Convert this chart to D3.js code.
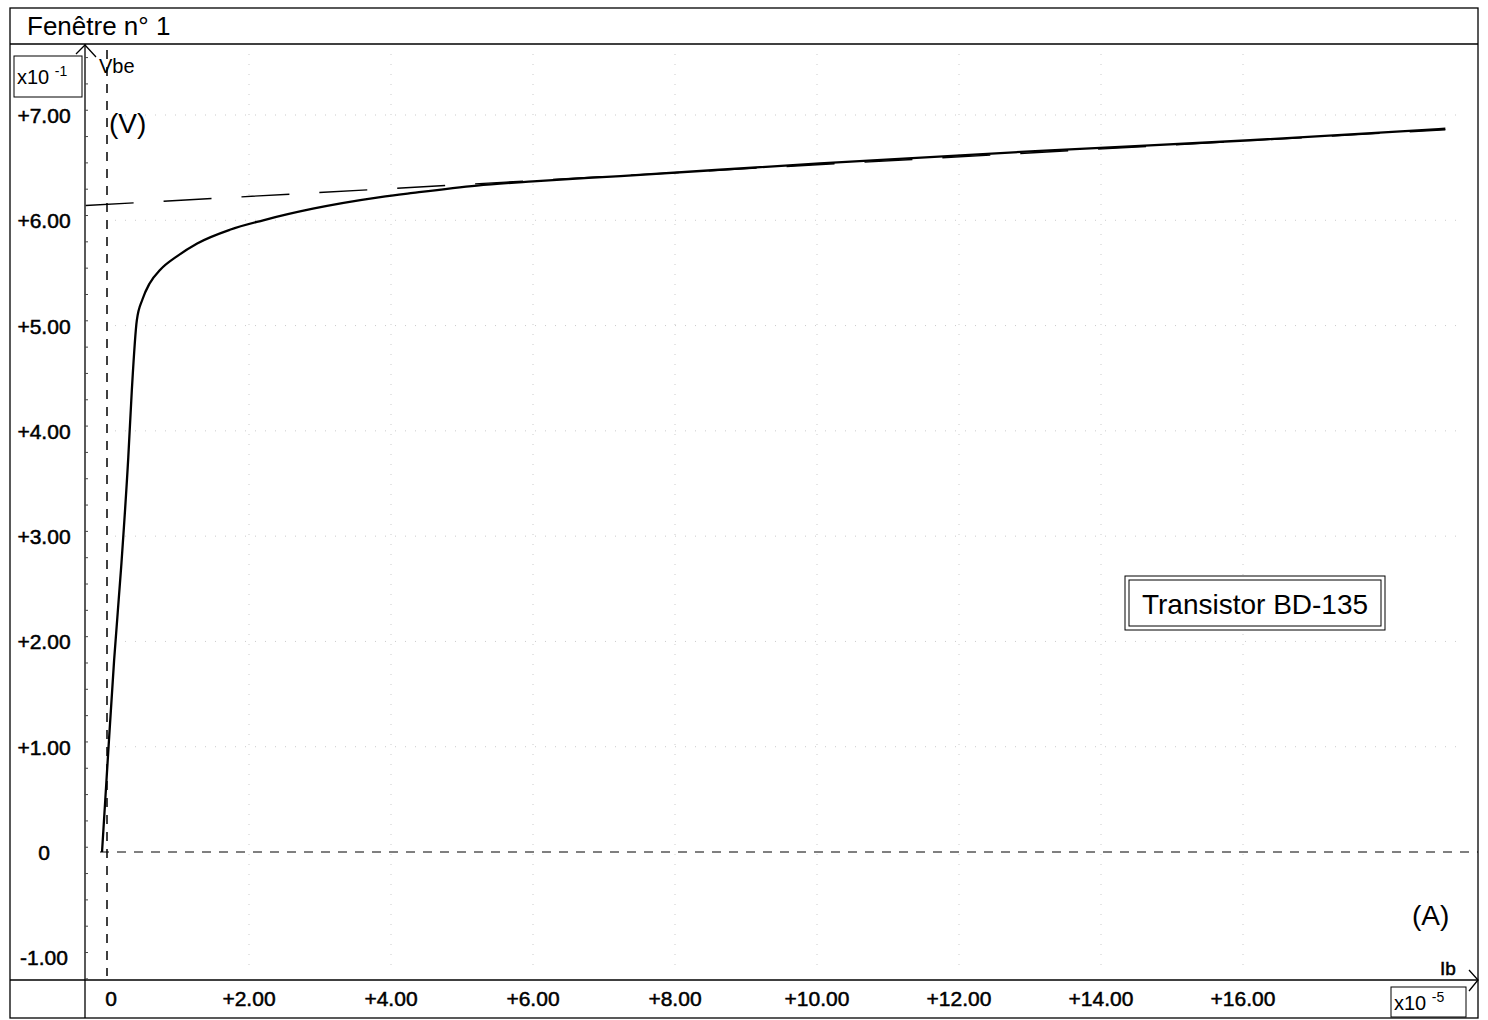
<!DOCTYPE html>
<html>
<head>
<meta charset="utf-8">
<script src="https://cdn.jsdelivr.net/npm/d3@7"></script>
<style>
  body { margin: 0; background: #fff; }
  text { font-family: "Liberation Sans", Arial, sans-serif; fill: #000; }
  .tick-label { font-size: 21px; stroke: #000; stroke-width: 0.5px; }
</style>
</head>
<body>
<script>
// Ib (x10^-5 A) and Vbe (x10^-1 V)
const ibValues = [-0.07, 0.01, 0.10, 0.20, 0.30, 0.35, 0.42, 0.50, 0.60, 0.75, 0.99, 1.27, 1.73, 2.20, 2.90, 3.85, 4.31, 5.21, 6.00, 7.23, 10.04, 13.14, 16.10, 18.85];
const vbeValues = [0.00, 0.87, 1.82, 2.71, 3.75, 4.39, 5.05, 5.25, 5.40, 5.53, 5.66, 5.78, 5.91, 6.00, 6.11, 6.22, 6.26, 6.33, 6.37, 6.42, 6.54, 6.66, 6.76, 6.87];

// dashed asymptote end points
const tangentIb = [-0.3, 18.85];
const tangentVbe = [6.14, 6.86];

const xTicks = [0, 2, 4, 6, 8, 10, 12, 14, 16];
const yTicks = [-1, 0, 1, 2, 3, 4, 5, 6, 7];
const gridX = [2, 4, 6, 8, 10, 12, 14, 16];
const gridY = [1, 2, 3, 4, 5, 6, 7];

const width = 1488, height = 1020;
const frame = { left: 10, right: 1478, top: 8, bottom: 1018 };
const plot = { left: 85, right: 1478, top: 44, bottom: 980 };

const svg = d3.select('body').append('svg')
    .attr('width', width)
    .attr('height', height);

const x = d3.scaleLinear().domain([0, 16]).range([107, 1243]);
const y = d3.scaleLinear().domain([0, 7]).range([852, 115]);

const fmt = v => v === 0 ? '0' : (v > 0 ? '+' : '') + v.toFixed(2);

// faint dotted grid
const grid = svg.append('g').attr('stroke', '#aaa').attr('stroke-dasharray', '1,9').attr('opacity', 0.6);
grid.selectAll('.gx').data(gridX).enter().append('line')
    .attr('x1', d => x(d)).attr('x2', d => x(d))
    .attr('y1', plot.top + 10).attr('y2', plot.bottom - 6);
grid.selectAll('.gy').data(gridY).enter().append('line')
    .attr('x1', plot.left + 30).attr('x2', plot.right - 20)
    .attr('y1', d => y(d)).attr('y2', d => y(d));

// frame
const lines = svg.append('g').attr('stroke', '#000').attr('fill', 'none').attr('stroke-width', 1.3);
lines.append('rect')
    .attr('x', frame.left).attr('y', frame.top)
    .attr('width', frame.right - frame.left).attr('height', frame.bottom - frame.top);
lines.append('line').attr('x1', frame.left).attr('x2', frame.right).attr('y1', plot.top).attr('y2', plot.top);
lines.append('line').attr('x1', plot.left).attr('x2', plot.left).attr('y1', plot.top).attr('y2', frame.bottom);
lines.append('line').attr('x1', frame.left).attr('x2', frame.right).attr('y1', plot.bottom).attr('y2', plot.bottom);

// axis arrows
lines.append('path').attr('d', `M${plot.left - 9},${plot.top + 10}L${plot.left},${plot.top + 1}L${plot.left + 11},${plot.top + 13}`);
lines.append('path').attr('d', `M${plot.right - 9},${plot.bottom - 10}L${plot.right},${plot.bottom}L${plot.right - 9},${plot.bottom + 11}`);

// minor ticks on y axis line
const yAxis = d3.axisRight(y).tickValues(d3.range(-1.2, 7.6, 0.25)).tickSize(3).tickFormat('');
svg.append('g').attr('transform', `translate(${plot.left},0)`).call(yAxis)
    .call(g => g.select('.domain').remove())
    .selectAll('line').attr('stroke', '#444');

// tick labels
svg.append('g').selectAll('text').data(yTicks).enter().append('text')
    .classed('tick-label', true)
    .attr('x', 44).attr('y', d => y(d) + 8)
    .attr('text-anchor', 'middle')
    .text(fmt);

svg.append('g').selectAll('text').data(xTicks).enter().append('text')
    .classed('tick-label', true)
    .attr('x', d => x(d) + (d === 0 ? 4 : 0)).attr('y', 1006)
    .attr('text-anchor', 'middle')
    .text(fmt);

// dashed zero axes
svg.append('line')
    .attr('x1', 100).attr('x2', plot.right)
    .attr('y1', y(0)).attr('y2', y(0))
    .attr('stroke', '#000').attr('stroke-dasharray', '9,8');
svg.append('line')
    .attr('x1', x(0)).attr('x2', x(0))
    .attr('y1', plot.top + 6).attr('y2', plot.bottom - 4)
    .attr('stroke', '#000').attr('stroke-width', 1.5).attr('stroke-dasharray', '9,8');

// tangent line
svg.append('line')
    .attr('x1', x(tangentIb[0])).attr('y1', y(tangentVbe[0]))
    .attr('x2', x(tangentIb[1])).attr('y2', y(tangentVbe[1]))
    .attr('stroke', '#000').attr('stroke-width', 1.4).attr('stroke-dasharray', '48,30');

// measured curve
const curve = ibValues.map((d, i) => [d, vbeValues[i]]);
svg.append('path')
    .datum(curve)
    .attr('fill', 'none')
    .attr('stroke', '#000')
    .attr('stroke-width', 2.3)
    .attr('d', d3.line().x(d => x(d[0])).y(d => y(d[1])).curve(d3.curveMonotoneX));

// title
svg.append('text').attr('x', 27).attr('y', 35).style('font-size', '26px').text('Fenêtre n° 1');

// unit boxes
svg.append('rect').attr('x', 14).attr('y', 56).attr('width', 68).attr('height', 41)
    .attr('fill', '#fff').attr('stroke', '#000');
const yUnit = svg.append('text').attr('x', 17).attr('y', 84).style('font-size', '20px');
yUnit.append('tspan').text('x10 ');
yUnit.append('tspan').attr('dy', -8).style('font-size', '14px').text('-1');

svg.append('rect').attr('x', 1391).attr('y', 987).attr('width', 75).attr('height', 30)
    .attr('fill', '#fff').attr('stroke', '#000');
const xUnit = svg.append('text').attr('x', 1394).attr('y', 1010).style('font-size', '20px');
xUnit.append('tspan').text('x10 ');
xUnit.append('tspan').attr('dy', -8).style('font-size', '14px').text('-5');

// axis names
svg.append('text').attr('x', 99).attr('y', 73).style('font-size', '20px').text('Vbe');
svg.append('text').attr('x', 109).attr('y', 133).style('font-size', '28px').text('(V)');
svg.append('text').classed('tick-label', true).attr('x', 1440).attr('y', 975).style('font-size', '19px').text('Ib');
svg.append('text').attr('x', 1412).attr('y', 925).style('font-size', '28px').text('(A)');

// label box
svg.append('rect').attr('x', 1125).attr('y', 576).attr('width', 260).attr('height', 54)
    .attr('fill', '#fff').attr('stroke', '#000');
svg.append('rect').attr('x', 1129).attr('y', 580).attr('width', 252).attr('height', 46)
    .attr('fill', 'none').attr('stroke', '#000');
svg.append('text').attr('x', 1255).attr('y', 614).attr('text-anchor', 'middle')
    .style('font-size', '28px').text('Transistor BD-135');
</script>
</body>
</html>
